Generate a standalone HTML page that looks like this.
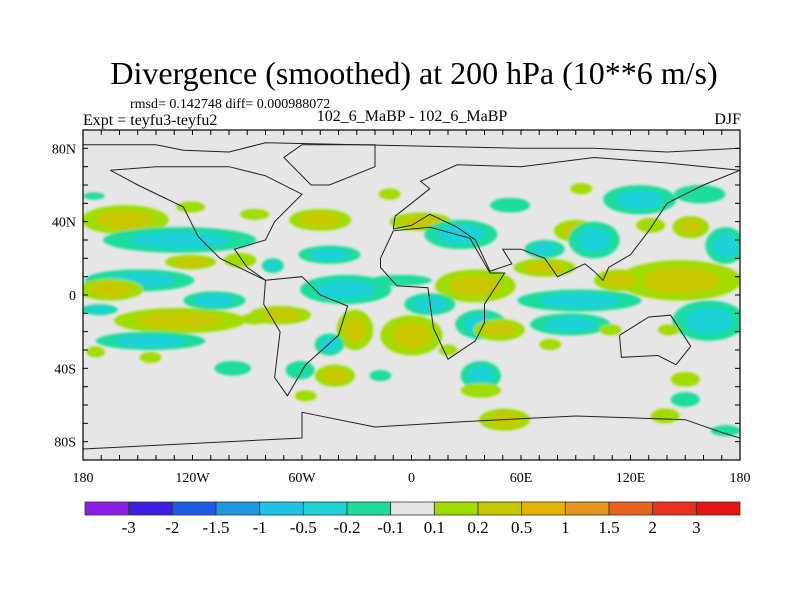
<!DOCTYPE html>
<html><head><meta charset="utf-8">
<style>
html,body{margin:0;padding:0;background:#fff;}
svg{display:block;font-family:"Liberation Serif",serif;}
</style></head>
<body>
<svg id="chart" width="800" height="600" viewBox="0 0 800 600" xmlns="http://www.w3.org/2000/svg">
<defs>
<clipPath id="mapclip"><rect x="83" y="130" width="657" height="330"/></clipPath>
<filter id="soft" x="-20%" y="-20%" width="140%" height="140%"><feGaussianBlur stdDeviation="1.2"/></filter>
</defs>
<text x="414" y="84" font-size="32" text-anchor="middle">Divergence (smoothed) at 200 hPa (10**6 m/s)</text>
<text x="130" y="108" font-size="14">rmsd= 0.142748 diff= 0.000988072</text>
<text x="83" y="125" font-size="16">Expt = teyfu3-teyfu2</text>
<text x="412" y="121" font-size="16" text-anchor="middle">102_6_MaBP - 102_6_MaBP</text>
<text x="741" y="124" font-size="16" text-anchor="end">DJF</text>
<rect x="83" y="130" width="657" height="330" fill="#e6e6e6"/>
<g id="blobs" clip-path="url(#mapclip)" filter="url(#soft)"></g>
<g id="coast" clip-path="url(#mapclip)"></g>
<rect x="83" y="130" width="657" height="330" fill="none" stroke="#000" stroke-width="1.2"/>
<g id="axes"></g>
<g id="colorbar"></g>
</svg>
<script>
// contour blobs: longitude, latitude, value, radius lon, radius lat
const blobLon = [-157,-127,-174,-121,-86,-121,-149,-165,-127,-108,-171,-143,-173,-143,-72,-94,-76,-86,
 -50,-12,5,27,54,-45,35,-36,-6,-31,0,10,38,48,-45,-42,-61,-17,38,38,
 125,158,93,90,100,73,73,131,153,172,147,114,92,163,87,109,141,76,150,150,139,172,51,-58,20,-98];
const blobLat = [41,30,54,48,44,18,8,3,-14,-3,-8,-25,-31,-34,-11,19,16,-13,
 41,55,40,33,49,22,5,3,8,-19,-22,-5,-16,-19,-27,-44,-41,-44,-44,-52,
 52,55,58,35,30,25,15,38,37,27,8,8,-3,-14,-16,-19,-19,-27,-46,-57,-66,-74,-68,-55,-30,-40];
const blobVal = [0.35,-0.35,-0.15,0.15,0.15,0.3,-0.35,0.4,0.4,-0.35,-0.3,-0.35,0.15,0.15,0.5,0.15,-0.25,0.15,
 0.3,0.15,0.4,-0.4,-0.15,-0.3,0.4,-0.5,-0.15,0.4,0.5,-0.4,-0.3,0.4,-0.3,0.3,-0.15,-0.15,-0.35,0.15,
 -0.3,-0.15,0.15,0.3,-0.5,-0.3,0.35,0.15,0.25,-0.5,0.5,0.3,-0.25,-0.5,-0.3,0.15,0.15,0.15,0.15,-0.15,0.15,-0.15,0.3,0.15,0.15,-0.2];
const blobRLon = [24,42,6,8,8,14,30,18,36,17,10,30,5,6,17,9,6,8,
 17,6,17,20,11,17,22,25,17,10,17,14,14,14,8,11,8,6,11,11,
 20,14,6,12,14,11,17,8,10,11,34,14,34,20,22,6,6,6,8,8,8,8,14,6,5,10];
const blobRLat = [8,7,2,3,3,4,6,6,7,5,3,5,3,3,5,4,4,3,
 6,3,5,8,4,5,9,8,3,11,11,6,8,6,6,6,5,3,8,4,
 8,5,3,6,10,5,5,4,6,10,11,6,6,11,6,3,3,3,4,4,4,3,6,3,3,4];
// colorbar
const levels = ["-3","-2","-1.5","-1","-0.5","-0.2","-0.1","0.1","0.2","0.5","1","1.5","2","3"];
const levelVals = [-3,-2,-1.5,-1,-0.5,-0.2,-0.1,0.1,0.2,0.5,1,1.5,2,3];
const colors = ["#8a1ee6","#3c1ee0","#1e5ae6","#1e96e0","#1ec4e6","#1ed2d8","#1edc9e","#e6e6e6","#a0dc00","#c8c800","#e6b400","#e6961e","#e6641e","#e6321e","#e61414"];
// axis ticks
const lonLabels = ["180","120W","60W","0","60E","120E","180"];
const lonLabelVals = [-180,-120,-60,0,60,120,180];
const latLabels = ["80N","40N","0","40S","80S"];
const latLabelVals = [80,40,0,-40,-80];
// coastlines (lon,lat pairs)
const coastNames = ["north-america","south-america","africa","eurasia","australia","greenland","antarctica","arctic"];
const coasts = [
 [[-165,68],[-140,70],[-100,70],[-80,65],[-60,55],[-75,40],[-80,30],[-97,25],[-90,15],[-80,8],[-105,20],[-117,32],[-125,48],[-150,60],[-165,68]],
 [[-80,8],[-60,10],[-50,0],[-35,-6],[-40,-22],[-58,-38],[-68,-55],[-75,-45],[-72,-20],[-81,-5],[-80,8]],
 [[-17,20],[-10,35],[10,37],[32,31],[43,12],[51,12],[40,-5],[40,-15],[35,-25],[20,-35],[12,-18],[9,4],[-8,5],[-17,15],[-17,20]],
 [[-10,36],[-9,43],[0,50],[10,58],[5,62],[25,71],[60,70],[100,75],[140,72],[180,68],[160,60],[140,50],[130,35],[120,22],[108,15],[105,8],[100,13],[95,17],[80,10],[73,20],[60,25],[50,25],[55,17],[43,13],[35,30],[25,37],[10,44],[0,38],[-10,36]],
 [[114,-22],[130,-12],[142,-11],[153,-28],[145,-38],[135,-33],[115,-34],[114,-22]],
 [[-55,60],[-45,60],[-20,70],[-20,82],[-60,82],[-70,75],[-55,60]],
 [[-180,-84],[-60,-78],[-60,-64],[-20,-72],[30,-69],[90,-66],[150,-68],[170,-75],[180,-78]],
 [[-180,82],[-140,82],[-125,79],[-100,78],[-80,83],[60,80],[100,80],[140,78],[180,80]]
];
const X0=83,X1=740,Y0=130,Y1=460;
function xs(lon){return X0+(lon+180)/360*(X1-X0);}
function ys(lat){return Y0+(90-lat)/180*(Y1-Y0);}
function colorFor(v){let i=0;while(i<levelVals.length&&v>levelVals[i])i++;return colors[i];}
const NS="http://www.w3.org/2000/svg";
function mk(tag,attrs,parent){const e=document.createElementNS(NS,tag);for(const k in attrs)e.setAttribute(k,attrs[k]);parent.appendChild(e);return e;}
const gB=document.getElementById('blobs');
for(let i=0;i<blobLon.length;i++){
  const v=blobVal[i], s=Math.sign(v);
  const steps=[0.15*s]; if(Math.abs(v)>0.2)steps.push(0.3*s); if(Math.abs(v)>0.5)steps.push(0.7*s);
  steps.forEach((lv,k)=>{
    const f=1-k*0.35;
    const e=mk('ellipse',{cx:xs(blobLon[i]),cy:ys(blobLat[i]),rx:blobRLon[i]*f*(X1-X0)/360,ry:blobRLat[i]*f*(Y1-Y0)/180,fill:colorFor(lv)},gB);
    
    
  });
}
const gC=document.getElementById('coast');
coasts.forEach((c,i)=>{
  const p=mk('polyline',{points:c.map(q=>xs(q[0]).toFixed(1)+','+ys(q[1]).toFixed(1)).join(' '),fill:'none',stroke:'#222','stroke-width':1},gC);
  
  
});
const gA=document.getElementById('axes');
for(let lon=-180;lon<=180;lon+=10){
  [[Y0,Y0+5],[Y1,Y1-5]].forEach(t=>{const l=mk('line',{x1:xs(lon),x2:xs(lon),y1:t[0],y2:t[1],stroke:'#000'},gA);
  
  });
}
for(let lat=-90;lat<=90;lat+=10){
  [[X0,X0+5],[X1,X1-5]].forEach(t=>{const l=mk('line',{y1:ys(lat),y2:ys(lat),x1:t[0],x2:t[1],stroke:'#000'},gA);
  
  });
}
lonLabels.forEach((t,i)=>{const e=mk('text',{x:xs(lonLabelVals[i]),y:482,'font-size':14,'text-anchor':'middle'},gA);e.textContent=t;
  
  });
latLabels.forEach((t,i)=>{const e=mk('text',{x:76,y:ys(latLabelVals[i])+5,'font-size':14,'text-anchor':'end'},gA);e.textContent=t;
  
  });
const gL=document.getElementById('colorbar');
const bx0=85,bx1=740,bw=(bx1-bx0)/colors.length;
colors.forEach((c,i)=>{const r=mk('rect',{x:bx0+i*bw,y:502,width:bw,height:13,fill:c,stroke:'#333','stroke-width':0.8},gL);
  
  });
levels.forEach((t,i)=>{const e=mk('text',{x:bx0+(i+1)*bw,y:533,'font-size':17,'text-anchor':'middle'},gL);e.textContent=t;
  
  });
</script>
</body></html>
